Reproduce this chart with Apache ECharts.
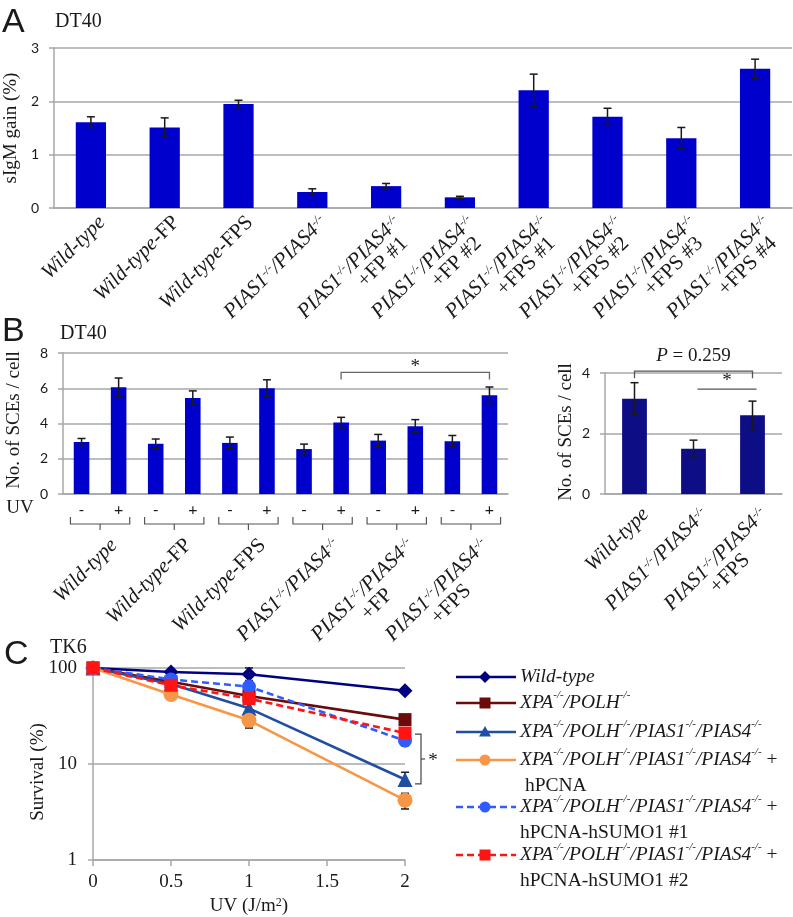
<!DOCTYPE html>
<html><head><meta charset="utf-8">
<script src="https://cdn.jsdelivr.net/npm/echarts@6/dist/echarts.min.js"></script>
<style>html,body{margin:0;padding:0;background:#fff}#c{width:793px;height:917px}</style>
</head><body><div id="c"></div>
<script>
// ---------------- DATA ----------------
// Panel A (sIgM gain, DT40)
const aLabels = [
  '*Wild-type*', '*Wild-type*-FP', '*Wild-type*-FPS',
  '*PIAS1*^-/-^*/PIAS4*^-/-^',
  '*PIAS1*^-/-^*/PIAS4*^-/-^\n+FP #1', '*PIAS1*^-/-^*/PIAS4*^-/-^\n+FP #2',
  '*PIAS1*^-/-^*/PIAS4*^-/-^\n+FPS #1', '*PIAS1*^-/-^*/PIAS4*^-/-^\n+FPS #2',
  '*PIAS1*^-/-^*/PIAS4*^-/-^\n+FPS #3', '*PIAS1*^-/-^*/PIAS4*^-/-^\n+FPS #4'
];
const aValues = [1.61, 1.51, 1.95, 0.30, 0.41, 0.20, 2.21, 1.71, 1.31, 2.61];
const aErrors = [0.10, 0.18, 0.07, 0.06, 0.05, 0.02, 0.30, 0.16, 0.20, 0.18];

// Panel B left (SCEs per cell, DT40, -/+ UV)
const bGroups = ['*Wild-type*', '*Wild-type*-FP', '*Wild-type*-FPS',
  '*PIAS1*^-/-^*/PIAS4*^-/-^', '*PIAS1*^-/-^*/PIAS4*^-/-^\n+FP', '*PIAS1*^-/-^*/PIAS4*^-/-^\n+FPS'];
const bUV = ['-', '+', '-', '+', '-', '+', '-', '+', '-', '+', '-', '+'];
const bValues = [2.95, 6.05, 2.85, 5.45, 2.90, 6.00, 2.55, 4.05, 3.03, 3.85, 3.00, 5.60];
const bErrors = [0.20, 0.53, 0.27, 0.40, 0.33, 0.48, 0.28, 0.30, 0.35, 0.37, 0.32, 0.47];
const bSig = [[7, 11, 6.9, 6.5]]; // from bar, to bar, line level, drop level

// Panel B right
const brLabels = ['*Wild-type*', '*PIAS1*^-/-^*/PIAS4*^-/-^', '*PIAS1*^-/-^*/PIAS4*^-/-^\n+FPS'];
const brValues = [3.15, 1.50, 2.60];
const brErrors = [0.53, 0.28, 0.47];
const brP = [[0, 2, 4.06, 3.83]];
const brStar = [[1, 2, 3.47]];

// Panel C (TK6 survival)
const cDoses = [0, 0.5, 1, 2];
const cNames = [
  '*Wild-type*',
  '*XPA*^-/-^*/POLH*^-/-^',
  '*XPA*^-/-^*/POLH*^-/-^*/PIAS1*^-/-^*/PIAS4*^-/-^',
  '*XPA*^-/-^*/POLH*^-/-^*/PIAS1*^-/-^*/PIAS4*^-/-^ +\n hPCNA',
  '*XPA*^-/-^*/POLH*^-/-^*/PIAS1*^-/-^*/PIAS4*^-/-^ +\nhPCNA-hSUMO1 #1',
  '*XPA*^-/-^*/POLH*^-/-^*/PIAS1*^-/-^*/PIAS4*^-/-^ +\nhPCNA-hSUMO1 #2'
];
const cWT = [100, 91, 86, 58];
const cXP = [100, 72, 51, 29];
const cXPP = [100, 68, 38, 6.9];
const cPCNA = [100, 53, 28.5, 4.2];
const cSUMO1 = [100, 76, 64, 17.5];
const cSUMO2 = [100, 66, 48, 21];
// error bars [dose, low, high]
const cErrBars = [[1, 74, 100], [1, 23.7, 33], [2, 5.9, 8.2], [2, 3.4, 4.95], [2, 15.5, 19.5]];
const cSig = [[2, 20.5, 6.2]];

// ---------------- STYLE HELPERS ----------------
const SERIF = '"Liberation Serif", "Times New Roman", serif';
const SANS = 'Lato, "Liberation Sans", sans-serif';
const TXT = '#1a1a1a';
const GRIDC = '#a4a8a8';
const BAR1 = '#0000cc';
const BAR2 = '#0d0d85';

// markup: *italic*, ^superscript^, \n new line
function rich(m, gap) {
  return m.split('\n').map((line, li) => {
    const sfx = li > 0 ? '2' : '';
    let out = '', it = false, sup = false, buf = '';
    const flush = () => { if (buf) { out += '{' + (sup ? 's' : it ? 'i' : 'n') + sfx + '|' + buf + '}'; buf = ''; } };
    for (const ch of line) {
      if (ch === '*') { flush(); it = !it; }
      else if (ch === '^') { flush(); sup = !sup; }
      else buf += ch;
    }
    flush();
    if (li > 0 && gap) out += '{g| }';
    return out;
  }).join('\n');
}
function richStyles(size, align, lh, align2, gap) {
  const base = { fontFamily: SERIF, fontSize: size, color: TXT, lineHeight: lh || size + 1 };
  const ss = Math.round(size * 0.58);
  const mk = (al) => {
    const b = Object.assign({}, base);
    if (al) b.align = al;
    return {
      i: Object.assign({}, b, { fontStyle: 'italic' }),
      n: Object.assign({}, b),
      s: Object.assign({}, b, { fontStyle: 'italic', fontSize: ss, lineHeight: ss + 1, verticalAlign: 'top' })
    };
  };
  const r1 = mk(align), r2 = mk(align2 || align);
  return {
    i: r1.i, n: r1.n, s: r1.s, i2: r2.i, n2: r2.n, s2: r2.s,
    g: Object.assign({}, base, { width: gap || 1, align: align2 || align })
  };
}
const lineSt = { color: GRIDC, width: 1.5 };

function errorSeries(xi, yi, data, cap, z) {
  return {
    type: 'custom', xAxisIndex: xi, yAxisIndex: yi, data: data, z: z || 5, silent: true, clip: false,
    encode: { x: 0, y: [1, 2] },
    renderItem: function (params, api) {
      const x = api.value(0), lo = api.value(1), hi = api.value(2);
      const a = api.coord([x, hi]), b = api.coord([x, lo]);
      const st = { stroke: '#1a1a1a', lineWidth: 1.5 };
      return { type: 'group', children: [
        { type: 'line', shape: { x1: a[0], y1: a[1], x2: b[0], y2: b[1] }, style: st },
        { type: 'line', shape: { x1: a[0] - cap, y1: a[1], x2: a[0] + cap, y2: a[1] }, style: st },
        { type: 'line', shape: { x1: b[0] - cap, y1: b[1], x2: b[0] + cap, y2: b[1] }, style: st }
      ] };
    }
  };
}
function yAxisCfg(gi, max, interval) {
  return {
    gridIndex: gi, type: 'value', min: 0, max: max, interval: interval,
    axisLine: { show: true, lineStyle: lineSt },
    axisTick: { show: true, length: 5, lineStyle: lineSt },
    splitLine: { show: true, lineStyle: lineSt },
    axisLabel: { fontFamily: SANS, fontSize: 14, color: TXT, margin: 15 }
  };
}
function catLabel(labels, pad, margin, align2, gap) {
  return {
    interval: 0, rotate: 45, align: 'right', verticalAlign: 'top',
    padding: [pad, 0, 0, 0], margin: margin,
    formatter: (v, i) => rich(labels[i], gap),
    rich: richStyles(21, 'right', 20, align2, gap)
  };
}

// ---------------- CHART ----------------
const chart = echarts.init(document.getElementById('c'), null, { renderer: 'canvas' });

const grids = [
  { left: 54, top: 48, width: 738, height: 160 },
  { left: 63, top: 353, width: 445, height: 141 },
  { left: 605, top: 373, width: 177, height: 121 },
  { left: 93, top: 668, width: 312, height: 192 }
].map(g => Object.assign({ containLabel: false, outerBoundsMode: 'none' }, g));

const xAxes = [
  { gridIndex: 0, type: 'category', data: aLabels, axisLine: { show: true, lineStyle: lineSt }, axisTick: { show: false },
    axisLabel: catLabel(aLabels, 6, 0, 'right', 10) },
  { gridIndex: 1, type: 'category', data: bUV.map((s, i) => s + i), axisLine: { show: true, lineStyle: lineSt }, axisTick: { show: false },
    axisLabel: { interval: 0, margin: 8, fontFamily: SANS, fontSize: 16, color: TXT, formatter: (v, i) => bUV[i] } },
  { gridIndex: 1, type: 'category', position: 'bottom', offset: 34, data: bGroups, axisLine: { show: false }, axisTick: { show: false },
    axisLabel: catLabel(bGroups, 10, 0, 'center') },
  { gridIndex: 2, type: 'category', data: brLabels, axisLine: { show: true, lineStyle: lineSt }, axisTick: { show: false },
    axisLabel: catLabel(brLabels, 6, 6, 'center') },
  { gridIndex: 3, type: 'value', min: 0, max: 2, interval: 0.5,
    axisLine: { show: true, lineStyle: lineSt }, axisTick: { show: true, length: 6, lineStyle: lineSt },
    splitLine: { show: false },
    axisLabel: { fontFamily: SERIF, fontSize: 19, color: TXT, margin: 13 } }
];
const yAxes = [
  yAxisCfg(0, 3, 1),
  yAxisCfg(1, 8, 2),
  yAxisCfg(2, 4, 2),
  { gridIndex: 3, type: 'log', logBase: 10, min: 1, max: 100,
    axisLine: { show: true, lineStyle: lineSt }, axisTick: { show: true, length: 5, lineStyle: lineSt },
    splitLine: { show: true, lineStyle: lineSt }, minorTick: { show: false },
    axisLabel: { fontFamily: SERIF, fontSize: 19, color: TXT, margin: 16 } }
];

const cColors = ['#000080', '#6b0b0b', '#1f4ea3', '#f79646', '#2f5cff', '#ff1414'];
const cSymbols = ['diamond', 'rect', 'triangle', 'circle', 'circle', 'rect'];
const cSizes = [15, 13, 15, 15, 14, 13];
const cDashed = [false, false, false, false, true, true];
const cAll = [cWT, cXP, cXPP, cPCNA, cSUMO1, cSUMO2];

const series = [
  { type: 'bar', xAxisIndex: 0, yAxisIndex: 0, data: aValues, barWidth: '41%', itemStyle: { color: BAR1 }, silent: true },
  errorSeries(0, 0, aValues.map((v, i) => [i, v - aErrors[i], v + aErrors[i]]), 4),
  { type: 'bar', xAxisIndex: 1, yAxisIndex: 1, data: bValues, barWidth: '42%', itemStyle: { color: BAR1 }, silent: true },
  errorSeries(1, 1, bValues.map((v, i) => [i, v - bErrors[i], v + bErrors[i]]), 4),
  { type: 'bar', xAxisIndex: 3, yAxisIndex: 2, data: brValues, barWidth: '42%', itemStyle: { color: BAR2 }, silent: true },
  errorSeries(3, 2, brValues.map((v, i) => [i, v - brErrors[i], v + brErrors[i]]), 4),
  // braces under UV pairs
  { type: 'custom', xAxisIndex: 2, yAxisIndex: 1, data: bGroups.map((g, i) => [i, 0]), clip: false, silent: true,
    renderItem: function (params, api) {
      const p = api.coord([api.value(0), 0]);
      const hw = api.size([1, 0])[0] * 0.4;
      const y0 = p[1];
      const st = { stroke: '#555', lineWidth: 1.2, fill: null };
      return { type: 'group', children: [
        { type: 'polyline', shape: { points: [[p[0] - hw, y0 + 23], [p[0] - hw, y0 + 30], [p[0] + hw, y0 + 30], [p[0] + hw, y0 + 23]] }, style: st },
        { type: 'line', shape: { x1: p[0], y1: y0 + 30, x2: p[0], y2: y0 + 36 }, style: st }
      ] };
    } },
  // significance bracket panel B left
  { type: 'custom', xAxisIndex: 1, yAxisIndex: 1, data: bSig, clip: false, silent: true,
    renderItem: function (params, api) {
      const a = api.coord([api.value(0), api.value(2)]), b = api.coord([api.value(1), api.value(2)]);
      const yd = api.coord([api.value(0), api.value(3)])[1];
      return { type: 'group', children: [
        { type: 'polyline', shape: { points: [[a[0], yd], [a[0], a[1]], [b[0], b[1]], [b[0], yd]] }, style: { stroke: '#666', lineWidth: 1.3, fill: null } },
        { type: 'text', style: { text: '*', x: (a[0] + b[0]) / 2, y: a[1] - 5, font: '19px ' + SERIF, fill: TXT, align: 'center', verticalAlign: 'middle' } }
      ] };
    } },
  // P value bracket panel B right
  { type: 'custom', xAxisIndex: 3, yAxisIndex: 2, data: brP, clip: false, silent: true,
    renderItem: function (params, api) {
      const a = api.coord([api.value(0), api.value(2)]), b = api.coord([api.value(1), api.value(2)]);
      const yd = api.coord([api.value(0), api.value(3)])[1];
      return { type: 'group', children: [
        { type: 'polyline', shape: { points: [[a[0], yd], [a[0], a[1]], [b[0], b[1]], [b[0], yd]] }, style: { stroke: '#555', lineWidth: 1.3, fill: null } },
        { type: 'text', style: { text: '{i|P} = 0.259', x: (a[0] + b[0]) / 2, y: a[1] - 15, fontFamily: SERIF, fontSize: 19, fill: TXT, align: 'center', verticalAlign: 'middle',
          rich: { i: { fontStyle: 'italic', fontFamily: SERIF, fontSize: 19 } } } }
      ] };
    } },
  { type: 'custom', xAxisIndex: 3, yAxisIndex: 2, data: brStar, clip: false, silent: true,
    renderItem: function (params, api) {
      const a = api.coord([api.value(0), api.value(2)]), b = api.coord([api.value(1), api.value(2)]);
      return { type: 'group', children: [
        { type: 'line', shape: { x1: a[0] + 4, y1: a[1], x2: b[0] + 4, y2: b[1] }, style: { stroke: '#555', lineWidth: 1.3 } },
        { type: 'text', style: { text: '*', x: (a[0] + b[0]) / 2 + 4, y: a[1] - 8, font: '19px ' + SERIF, fill: TXT, align: 'center', verticalAlign: 'middle' } }
      ] };
    } }
];

cAll.forEach((vals, k) => {
  series.push({
    type: 'line', xAxisIndex: 4, yAxisIndex: 3, name: cNames[k],
    data: cDoses.map((d, i) => [d, vals[i]]),
    symbol: cSymbols[k], symbolSize: cSizes[k], showSymbol: true,
    lineStyle: { color: cColors[k], width: 2.6, type: cDashed[k] ? [7, 4] : 'solid' },
    itemStyle: { color: cColors[k] }, silent: true, z: 2 + k
  });
});
series.push(errorSeries(4, 3, cErrBars, 4, 1));
series.push({ type: 'custom', xAxisIndex: 4, yAxisIndex: 3, data: cSig, clip: false, silent: true,
  renderItem: function (params, api) {
    const a = api.coord([api.value(0), api.value(1)]), b = api.coord([api.value(0), api.value(2)]);
    const x1 = a[0] + 10, x2 = a[0] + 16, ym = (a[1] + b[1]) / 2;
    const st = { stroke: '#444', lineWidth: 1.2, fill: null };
    return { type: 'group', children: [
      { type: 'polyline', shape: { points: [[x1, a[1]], [x2, a[1]], [x2, b[1]], [x1, b[1]]] }, style: st },
      { type: 'line', shape: { x1: x2, y1: ym, x2: x2 + 4, y2: ym }, style: st },
      { type: 'text', style: { text: '*', x: x2 + 12, y: ym + 2, font: '19px ' + SERIF, fill: TXT, align: 'center', verticalAlign: 'middle' } }
    ] };
  } });

// ---------------- ANNOTATION GRAPHICS ----------------
const g = [];
function txt(x, y, text, font, opts) {
  g.push(Object.assign({ type: 'text', x: x, y: y, silent: true,
    style: Object.assign({ text: text, font: font, fill: TXT, align: 'left', verticalAlign: 'middle' }, (opts && opts.style) || {}) },
    opts && opts.rotation ? { rotation: opts.rotation } : {}));
}
txt(2, 23, 'A', '34px "Liberation Sans", Arial, sans-serif');
txt(2, 332, 'B', '34px "Liberation Sans", Arial, sans-serif');
txt(4, 655, 'C', '34px "Liberation Sans", Arial, sans-serif');
txt(55, 22, 'DT40', '20px ' + SERIF);
txt(60, 334, 'DT40', '20px ' + SERIF);
txt(50, 648, 'TK6', '20px ' + SERIF);
txt(11, 128, 'sIgM gain (%)', '19px ' + SERIF, { rotation: Math.PI / 2, style: { align: 'center' } });
txt(14, 420, 'No. of SCEs / cell', '19px ' + SERIF, { rotation: Math.PI / 2, style: { align: 'center' } });
txt(566, 432, 'No. of SCEs / cell', '19px ' + SERIF, { rotation: Math.PI / 2, style: { align: 'center' } });
txt(38, 772, 'Survival (%)', '19px ' + SERIF, { rotation: Math.PI / 2, style: { align: 'center' } });
txt(20, 508, 'UV', '19px ' + SERIF, { style: { align: 'center' } });
g.push({ type: 'text', x: 249, y: 906, silent: true, style: { text: 'UV (J/m{s|2})', font: '19px ' + SERIF, fill: TXT, align: 'center', verticalAlign: 'middle',
  rich: { s: { fontFamily: SERIF, fontSize: 12, verticalAlign: 'top', lineHeight: 12 } } } });

// legend for panel C
const legRowY = [677, 703, 732, 760, 807, 855];
cNames.forEach((nm, k) => {
  const y = legRowY[k], cx = 485, col = cColors[k];
  g.push({ type: 'line', silent: true, shape: { x1: 456, y1: y, x2: 516, y2: y },
    style: { stroke: col, lineWidth: 2.6, lineDash: cDashed[k] ? [7, 4] : null } });
  let m;
  const s = cSymbols[k];
  if (s === 'diamond') m = { type: 'polygon', shape: { points: [[cx, y - 6], [cx + 6, y], [cx, y + 6], [cx - 6, y]] } };
  else if (s === 'rect') m = { type: 'rect', shape: { x: cx - 5.5, y: y - 5.5, width: 11, height: 11 } };
  else if (s === 'triangle') m = { type: 'polygon', shape: { points: [[cx, y - 6], [cx + 6, y + 4.5], [cx - 6, y + 4.5]] } };
  else m = { type: 'circle', shape: { cx: cx, cy: y, r: 5.5 } };
  m.silent = true; m.style = { fill: col };
  g.push(m);
  g.push({ type: 'text', x: 520, y: y - 13, silent: true,
    style: { text: rich(nm), fill: TXT, align: 'left', verticalAlign: 'top', rich: richStyles(19.5, null, 26) } });
});

chart.setOption({
  animation: false,
  backgroundColor: '#fff',
  textStyle: { fontFamily: SERIF },
  grid: grids,
  xAxis: xAxes,
  yAxis: yAxes,
  series: series,
  graphic: g
});
</script>
</body></html>
